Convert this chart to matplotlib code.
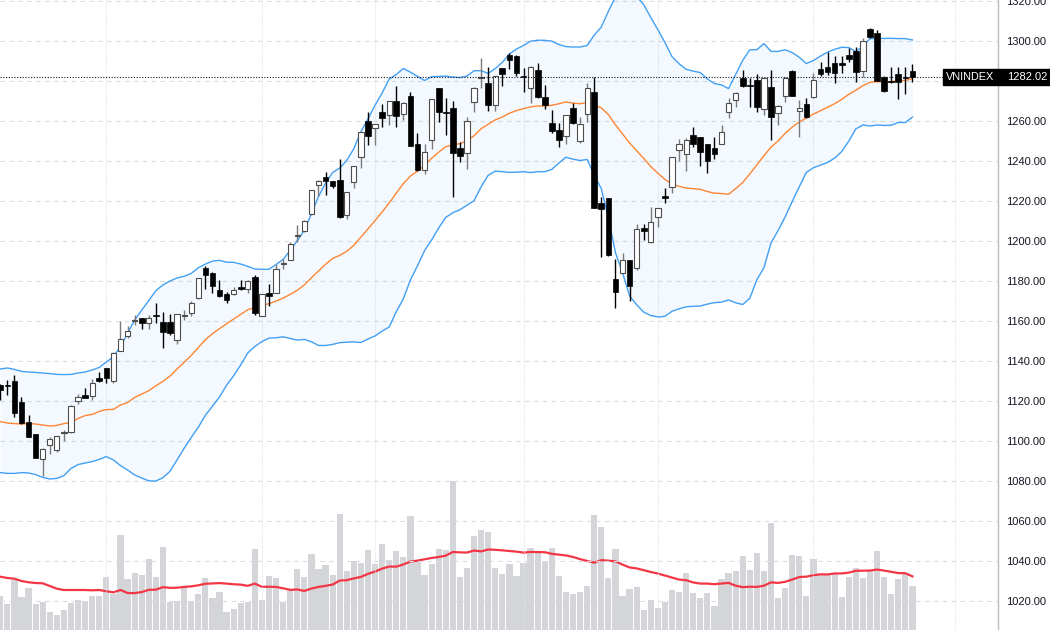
import matplotlib.pyplot as plt
import matplotlib.transforms as mtransforms
from matplotlib.patches import Rectangle
import numpy as np
import pandas as pd

# daily OHLC (oldest -> newest)
opens = [1128.0, 1127.5, 1130.2, 1119.7, 1109.3, 1103.3, 1091.2, 1097.8, 1095.5, 1104.0,
         1104.3, 1120.2, 1122.8, 1122.7, 1131.7, 1136.3, 1130.2, 1145.2, 1152.5, 1160.0,
         1161.3, 1158.8, 1162.8, 1159.5, 1159.3, 1150.5, 1162.3, 1164.2, 1171.3, 1186.3,
         1183.8, 1175.5, 1173.3, 1173.3, 1177.0, 1176.0, 1181.8, 1162.7, 1173.8, 1174.2,
         1188.5, 1190.7, 1202.5, 1205.2, 1213.3, 1227.8, 1231.8, 1230.0, 1230.5, 1212.8,
         1229.3, 1241.8, 1260.0, 1256.7, 1264.3, 1263.0, 1270.0, 1263.3, 1272.7, 1248.3,
         1235.5, 1250.5, 1276.3, 1264.4, 1266.3, 1246.7, 1243.8, 1269.7, 1281.6, 1279.2,
         1268.0, 1286.3, 1293.0, 1292.7, 1282.2, 1276.7, 1285.5, 1271.8, 1258.8, 1255.5,
         1252.5, 1266.7, 1250.0, 1263.3, 1274.3, 1218.8, 1221.3, 1180.8, 1183.8, 1190.5,
         1186.3, 1206.3, 1199.7, 1212.2, 1222.5, 1226.8, 1245.5, 1243.5, 1253.0, 1251.8,
         1248.3, 1246.3, 1248.5, 1264.7, 1270.5, 1281.3, 1278.0, 1280.5, 1265.8, 1276.8,
         1263.8, 1272.5, 1285.0, 1265.0, 1268.5, 1271.8, 1286.0, 1287.2, 1289.2, 1289.2,
         1293.0, 1295.2, 1285.2, 1305.8, 1303.8, 1282.2, 1279.5, 1283.3, 1282.2, 1285.2]
highs = [1128.5, 1130.5, 1132.8, 1121.8, 1113.0, 1103.5, 1096.5, 1102.2, 1102.5, 1105.5,
         1117.8, 1123.3, 1126.3, 1131.0, 1134.7, 1136.5, 1144.7, 1160.0, 1157.5, 1163.0,
         1161.5, 1163.0, 1169.2, 1164.7, 1163.3, 1163.5, 1165.5, 1170.2, 1181.5, 1187.5,
         1184.7, 1180.5, 1174.7, 1176.8, 1180.5, 1180.5, 1183.0, 1173.5, 1178.5, 1188.5,
         1190.8, 1199.7, 1207.8, 1210.5, 1225.5, 1230.3, 1234.3, 1230.2, 1241.0, 1224.5,
         1237.7, 1254.7, 1264.7, 1258.7, 1268.5, 1270.2, 1277.7, 1269.7, 1274.3, 1253.8,
         1248.5, 1271.0, 1276.5, 1271.7, 1270.0, 1249.7, 1261.8, 1276.8, 1291.3, 1287.2,
         1282.7, 1286.5, 1294.2, 1293.0, 1286.7, 1287.4, 1289.2, 1278.0, 1265.5, 1258.8,
         1263.2, 1268.8, 1262.2, 1278.8, 1282.2, 1222.2, 1221.5, 1190.8, 1194.2, 1190.7,
         1208.3, 1208.5, 1216.8, 1216.5, 1226.3, 1242.0, 1250.8, 1251.3, 1256.8, 1252.0,
         1248.5, 1252.2, 1258.0, 1271.3, 1274.7, 1285.5, 1281.3, 1283.5, 1281.5, 1285.5,
         1267.9, 1281.9, 1285.5, 1270.5, 1271.3, 1284.2, 1289.3, 1294.3, 1292.7, 1292.7,
         1296.3, 1296.8, 1301.3, 1306.3, 1305.5, 1282.5, 1287.2, 1287.2, 1287.2, 1288.3]
lows = [1120.5, 1123.0, 1112.2, 1108.5, 1102.0, 1091.5, 1082.5, 1093.5, 1094.7, 1100.2,
        1104.0, 1118.3, 1121.5, 1120.5, 1129.7, 1129.2, 1128.8, 1145.0, 1151.7, 1158.0,
        1155.8, 1155.8, 1158.8, 1146.5, 1153.0, 1148.5, 1160.5, 1162.5, 1171.0, 1175.8,
        1174.2, 1172.2, 1168.8, 1173.0, 1175.5, 1174.2, 1163.0, 1162.3, 1167.7, 1173.8,
        1185.8, 1190.5, 1199.7, 1204.7, 1213.0, 1222.7, 1223.0, 1226.7, 1211.5, 1211.0,
        1226.7, 1236.7, 1248.0, 1248.0, 1256.8, 1258.0, 1256.8, 1260.5, 1247.3, 1235.0,
        1233.3, 1245.8, 1259.3, 1253.0, 1222.2, 1239.7, 1235.8, 1264.7, 1276.7, 1265.0,
        1265.0, 1277.7, 1285.8, 1282.5, 1274.7, 1268.8, 1271.5, 1265.8, 1253.8, 1247.2,
        1248.3, 1258.5, 1248.8, 1259.7, 1216.5, 1192.2, 1192.7, 1166.3, 1183.6, 1170.2,
        1185.5, 1200.5, 1199.2, 1206.8, 1218.8, 1224.2, 1240.2, 1235.2, 1246.8, 1237.5,
        1234.2, 1241.0, 1248.3, 1261.7, 1267.2, 1277.2, 1267.2, 1264.3, 1263.0, 1250.5,
        1258.0, 1269.7, 1272.3, 1252.2, 1261.6, 1271.6, 1282.5, 1283.0, 1278.8, 1283.8,
        1289.3, 1279.7, 1282.2, 1301.6, 1279.8, 1274.7, 1278.8, 1270.8, 1273.5, 1279.7]
closes = [1125.5, 1127.3, 1114.2, 1109.2, 1102.2, 1091.7, 1096.0, 1100.8, 1102.3, 1104.2,
          1117.5, 1122.2, 1121.7, 1128.8, 1130.0, 1131.7, 1144.2, 1150.8, 1155.0, 1160.2,
          1158.8, 1161.3, 1162.5, 1154.7, 1154.2, 1163.3, 1162.7, 1169.2, 1181.3, 1183.0,
          1177.5, 1172.7, 1170.5, 1175.7, 1175.8, 1180.0, 1163.8, 1173.3, 1172.5, 1186.0,
          1189.0, 1198.3, 1202.8, 1210.0, 1225.3, 1230.2, 1230.2, 1227.5, 1211.8, 1224.3,
          1237.5, 1254.5, 1252.7, 1258.5, 1261.5, 1270.0, 1262.7, 1268.8, 1247.5, 1235.5,
          1244.7, 1270.8, 1264.3, 1264.2, 1243.8, 1242.7, 1260.2, 1276.7, 1281.8, 1268.0,
          1282.5, 1283.3, 1290.5, 1284.2, 1282.0, 1287.2, 1271.8, 1268.0, 1255.2, 1250.5,
          1263.0, 1258.8, 1258.3, 1276.7, 1216.7, 1215.8, 1193.0, 1174.7, 1190.3, 1177.5,
          1205.8, 1205.2, 1209.7, 1216.3, 1221.3, 1241.8, 1248.5, 1250.5, 1248.5, 1244.7,
          1240.2, 1243.3, 1254.3, 1268.8, 1273.8, 1277.5, 1277.5, 1267.2, 1281.3, 1262.2,
          1267.7, 1281.7, 1272.5, 1266.3, 1261.8, 1280.5, 1283.5, 1284.3, 1283.8, 1288.0,
          1290.8, 1284.3, 1300.2, 1301.8, 1280.0, 1275.0, 1279.3, 1279.7, 1281.3, 1282.02]

# volume (relative units, no scale shown on the chart)
volumes = [34, 26, 50, 33, 42, 25.7, 27.7, 18, 15, 20.3, 27, 30, 29, 33.7, 34, 53, 36, 95, 51, 57,
           55.3, 71, 53, 83, 28, 29, 43.3, 29, 36, 52, 32.3, 37.7, 18.3, 20.7, 27, 28.3, 81, 30, 54, 52,
           28.3, 40, 61, 53.3, 76, 61, 65, 55, 116, 59.3, 68.7, 66.7, 80, 66, 86, 70, 78.7, 72.7, 114, 70,
           55, 66, 81, 80, 149, 53.3, 62, 94, 99.7, 97.7, 62, 56, 66, 54, 67, 82, 77.7, 69, 82.3, 54,
           38, 36, 37.7, 43.7, 115, 103, 51.7, 81, 34, 41, 43, 20, 29.7, 22.3, 28.3, 40, 38, 57.3, 37, 32,
           37, 24.3, 51, 56.7, 59, 74, 60, 77, 59, 107, 32.3, 42, 74.7, 74, 34, 70.7, 54.7, 54.7, 56, 33,
           53, 62, 52, 60, 79, 53.3, 36, 51.3, 56, 44]

# indicator values for the first 19 bars (their history is off-screen)
bb_head_mid = [1109.7, 1109.0, 1108.7, 1108.5, 1108.7, 1108.5, 1108.0, 1107.5, 1107.8, 1108.7,
               1109.2, 1111.3, 1112.7, 1113.3, 1114.8, 1115.7, 1115.8, 1118.0, 1119.2]
bb_head_up = [1136.0, 1136.5, 1135.8, 1134.8, 1134.5, 1134.3, 1134.0, 1133.7, 1133.3, 1133.2,
              1133.3, 1134.0, 1134.5, 1135.5, 1136.8, 1139.5, 1142.2, 1147.2, 1153.8]
bb_head_lo = [1084.2, 1083.8, 1083.8, 1084.2, 1084.0, 1083.2, 1081.8, 1081.0, 1081.3, 1082.7,
              1086.3, 1088.2, 1089.0, 1089.7, 1090.8, 1092.2, 1090.5, 1087.7, 1085.5]
vol_ma_head = [53.3, 52, 51.3, 49, 47.7, 47, 46.7, 44, 41.3, 40, 40, 40, 40, 39.7, 40, 38.7, 37.7, 40, 37]

month_starts = [15, 37, 53, 74, 93, 115, 135]
price_ticks = np.arange(1020, 1321, 20)

idx = np.arange(len(closes))
o, h, l, c = map(np.array, (opens, highs, lows, closes))

# bollinger bands 20, 2
cs = pd.Series(closes)
mid = cs.rolling(20).mean()
sd = cs.rolling(20).std(ddof=0)
upper = mid + 2 * sd
lower = mid - 2 * sd
nh = len(bb_head_mid)
mid.iloc[:nh] = bb_head_mid
upper.iloc[:nh] = bb_head_up
lower.iloc[:nh] = bb_head_lo

vma = pd.Series(volumes).rolling(20).mean()
vma.iloc[:len(vol_ma_head)] = vol_ma_head

fig = plt.figure(figsize=(10.5, 6.3), dpi=100)
rect = [0, 0, 998 / 1050, 1]
vax = fig.add_axes(rect)
ax = fig.add_axes(rect, sharex=vax)
ax.set_zorder(vax.get_zorder() + 1)
ax.patch.set_visible(False)

# volume pane
vax.bar(idx, volumes, width=0.88, color='#9598a1', alpha=0.4, linewidth=0)
vax.plot(idx, vma, color='#f23645', lw=1.6)
vax.set_ylim(0, 630)
vax.axis('off')

# grid
for yv in price_ticks:
    ax.axhline(yv, color='#d9dbe0', lw=0.8, ls=(0, (4, 4)), zorder=0)
for xv in month_starts:
    ax.axvline(xv, color='#e3e5ea', lw=0.8, ls=(0, (1, 1)), zorder=0)

# bollinger
ax.fill_between(idx, lower, upper, color='#2196f3', alpha=0.05, lw=0, zorder=1)
ax.plot(idx, upper, color='#42a0f5', lw=1, zorder=2)
ax.plot(idx, lower, color='#42a0f5', lw=1, zorder=2)
ax.plot(idx, mid, color='#ff8533', lw=1, zorder=2)

# candles
up = c >= o
wick_col = np.where(up, '#7a7a7a', '#000000')
ax.vlines(idx, l, h, colors=wick_col, lw=1, zorder=3)
body_bottom = np.minimum(o, c)
body_h = np.maximum(np.abs(c - o), 0.5)
ax.bar(idx[up], body_h[up], bottom=body_bottom[up], width=0.74,
       color='white', edgecolor='#4d4d4d', linewidth=0.8, zorder=4)
ax.bar(idx[~up], body_h[~up], bottom=body_bottom[~up], width=0.8,
       color='black', edgecolor='black', linewidth=0.5, zorder=4)

# last price line and tags
last = closes[-1]
ax.axhline(last, color='#131722', lw=0.8, ls=(0, (1, 1.5)), zorder=5)
trans = mtransforms.blended_transform_factory(ax.transAxes, ax.transData)
ax.add_patch(Rectangle((1.0, last - 4), 0.06, 8, transform=trans, color='black',
                       clip_on=False, zorder=10))
ax.add_patch(Rectangle((943 / 998, last - 4), 1 - 943 / 998, 8, transform=trans,
                       color='black', clip_on=False, zorder=10))
ax.text(1007 / 998, last, f'{last:.2f}', transform=trans, ha='left', va='center',
        color='white', fontsize=8, family='Liberation Sans', zorder=11, clip_on=False)
ax.text(970 / 998, last, 'VNINDEX', transform=trans, ha='center', va='center',
        color='white', fontsize=7.8, family='Liberation Sans', zorder=11, clip_on=False)

ax.set_xlim(-0.04, 141.1)
ax.set_ylim(1005.5, 1320.5)
ax.yaxis.tick_right()
ax.set_yticks(price_ticks)
# the price tag hides the tick label it sits on
ax.set_yticklabels(['' if abs(v - last) < 8 else f'{v:.2f}' for v in price_ticks], fontsize=8,
                   family='Liberation Sans', color='#131722')
ax.tick_params(axis='y', length=0, pad=6)
ax.tick_params(axis='x', bottom=False, labelbottom=False)
for side in ['top', 'left', 'bottom']:
    ax.spines[side].set_visible(False)
ax.spines['right'].set_color('#b8bbc2')
ax.spines['right'].set_linewidth(1)

fig.savefig('out.png', dpi=100)
